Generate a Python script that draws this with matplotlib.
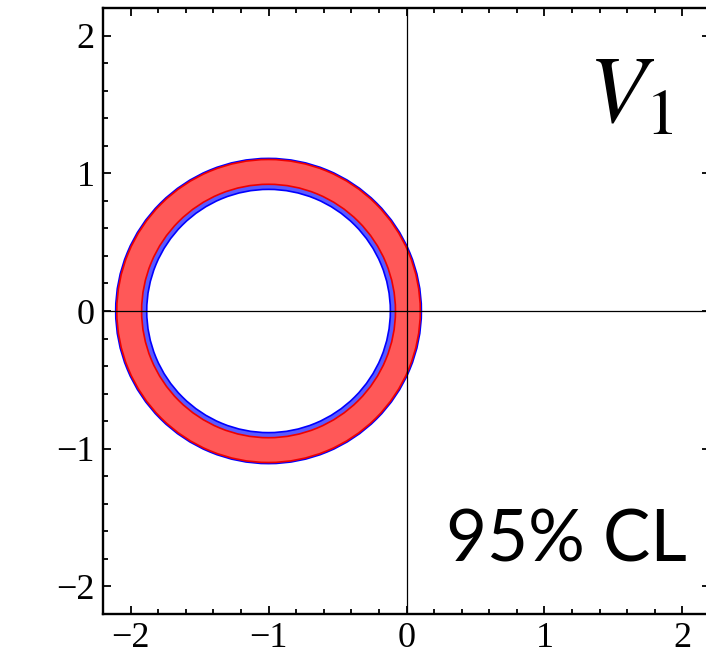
import matplotlib.pyplot as plt
import numpy as np
from matplotlib.patches import Wedge
from matplotlib.ticker import MultipleLocator

# Allowed region (circle centred at (-1, 0)), two confidence bands
center = (-1.0, 0.0)
blue_radii = [0.883, 1.108]   # inner, outer
red_radii = [0.920, 1.100]    # inner, outer

major_ticks = [-2, -1, 0, 1, 2]
tick_labels = ['\u22122', '\u22121', '0', '1', '2']

fig = plt.figure(figsize=(7.06, 6.56), dpi=100)
ax = fig.add_axes([103 / 706, 42 / 656, 607 / 706, 606 / 656])
ax.set_xlim(-2.2, 2.2)
ax.set_ylim(-2.2, 2.2)

# bands
ax.add_patch(Wedge(center, blue_radii[1], 0, 360,
                   width=blue_radii[1] - blue_radii[0],
                   facecolor='#5a5aff', edgecolor='#0000ff', linewidth=1.2, zorder=2))
ax.add_patch(Wedge(center, red_radii[1], 0, 360,
                   width=red_radii[1] - red_radii[0],
                   facecolor='#ff5858', edgecolor='#ee0000', linewidth=1.2, zorder=3))

# coordinate axes
ax.axhline(0, color='black', linewidth=0.9, zorder=4)
ax.axvline(0, color='black', linewidth=0.9, zorder=4)

# frame and ticks
for s in ax.spines.values():
    s.set_linewidth(1.7)
ax.spines['right'].set_visible(False)
ax.set_xticks(major_ticks)
ax.set_yticks(major_ticks)
ax.set_xticklabels(tick_labels)
ax.set_yticklabels(tick_labels)
ax.xaxis.set_minor_locator(MultipleLocator(0.2))
ax.yaxis.set_minor_locator(MultipleLocator(0.2))
ax.tick_params(which='both', direction='in', top=True, right=True, width=1.3)
ax.tick_params(which='major', length=6, labelsize=26, pad=6)
ax.tick_params(which='minor', length=3.5)
ax.tick_params(axis='y', which='minor', right=False)
for lab in ax.get_xticklabels() + ax.get_yticklabels():
    lab.set_family('Liberation Serif')

# annotations
ax.text(1.94, 1.37, r'$V_1$', fontsize=68, ha='right', va='baseline',
        math_fontfamily='stix')
ax.text(2.03, -1.82, '95% CL', fontsize=51, ha='right', va='baseline',
        family='Lato')

fig.savefig('out.png', dpi=100)
